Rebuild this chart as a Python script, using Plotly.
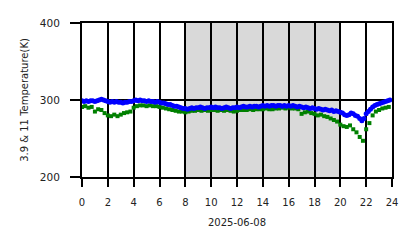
import plotly.graph_objects as go

# Blue series (3.9 um), 10-minute samples, 00:00 .. 23:50
blue_temp = [
    299, 298, 299, 298, 299, 299,
    298, 299, 300, 301, 300, 299,
    298, 297, 298, 297, 298, 297,
    297, 296, 297, 297, 298, 298,
    299, 300, 299, 300, 299, 299,
    298, 299, 298, 298, 297, 298,
    297, 296, 296, 295, 294, 294,
    293, 292, 292, 291, 290, 289,
    289, 288, 289, 290, 289, 290,
    290, 291, 290, 289, 290, 290,
    291, 290, 291, 290, 290, 289,
    290, 291, 290, 289, 290, 290,
    291, 290, 291, 292, 291, 291,
    292, 291, 292, 292, 291, 292,
    293, 292, 293, 292, 293, 293,
    292, 293, 293, 292, 293, 292,
    293, 292, 293, 292, 291, 292,
    291, 290, 291, 290, 289, 290,
    289, 288, 289, 288, 287, 288,
    287, 286, 287, 285, 286, 285,
    284, 283, 281, 280, 281, 283,
    282, 280, 279, 276, 273, 276,
    282, 285, 288, 291, 293, 294,
    295, 296, 297, 298, 299, 300,
]

# Green series (11 um), 15-minute samples, 00:00 .. 23:45
green_temp = [
    291, 292, 290, 291,
    285, 288, 287, 283,
    280, 279, 281, 279,
    281, 283, 284, 285,
    290, 292, 293, 293,
    292, 293, 292, 292,
    291, 290, 289, 288,
    287, 286, 285, 285,
    284, 285, 286, 286,
    287, 286, 287, 286,
    287, 287, 286, 287,
    286, 287, 286, 285,
    286, 287, 287, 287,
    288, 287, 288, 288,
    288, 289, 288, 288,
    289, 289, 290, 289,
    290, 289, 289, 288,
    282, 284, 285, 283,
    282, 280, 281, 279,
    278, 276, 274, 272,
    268, 266, 265, 267,
    262, 258, 252, 247,
    262, 270, 280, 285,
    287, 289, 290, 291,
]

x_ticks = [0, 2, 4, 6, 8, 10, 12, 14, 16, 18, 20, 22, 24]
y_ticks = [200, 300, 400]
night_start, night_end = 8, 20
date_label = "2025-06-08"
y_title = "3.9 & 11 Temperature(K)"

blue_x = [i / 6 for i in range(len(blue_temp))]
green_x = [i / 4 for i in range(len(green_temp))]

fig = go.Figure()
fig.add_vrect(x0=night_start, x1=night_end, fillcolor="#d9d9d9", opacity=1,
              line_width=0, layer="below")
fig.add_trace(go.Scatter(x=green_x, y=green_temp, mode="markers",
                         marker=dict(symbol="square", size=4, color="green",
                                     line_width=0)))
fig.add_trace(go.Scatter(x=blue_x, y=blue_temp, mode="markers",
                         marker=dict(symbol="circle", size=5, color="blue",
                                     line_width=0)))

font = dict(family="DejaVu Sans", size=10, color="#222")
fig.update_layout(
    width=418, height=248,
    margin=dict(l=82, r=26, t=23, b=71),
    plot_bgcolor="white", paper_bgcolor="white",
    showlegend=False, font=font,
)
fig.update_xaxes(range=[0, 24], tickvals=x_ticks, ticktext=[str(t) for t in x_ticks],
                 showgrid=True, gridcolor="black", gridwidth=2,
                 ticks="outside", ticklen=8, tickwidth=2, tickcolor="black",
                 showline=True, linecolor="black", linewidth=2, mirror=True,
                 zeroline=False, ticklabelstandoff=7,
                 title=dict(text=date_label, font=dict(size=10), standoff=12),
                 tickfont=dict(size=10))
fig.update_yaxes(range=[200, 400], tickvals=y_ticks,
                 showgrid=True, gridcolor="black", gridwidth=2,
                 ticks="outside", ticklen=10, tickwidth=2, tickcolor="black",
                 showline=True, linecolor="black", linewidth=2, mirror=True,
                 zeroline=False, ticklabelstandoff=8,
                 title=dict(text=y_title, font=dict(size=10), standoff=9),
                 tickfont=dict(size=10.5))

fig.write_html("out.html")
